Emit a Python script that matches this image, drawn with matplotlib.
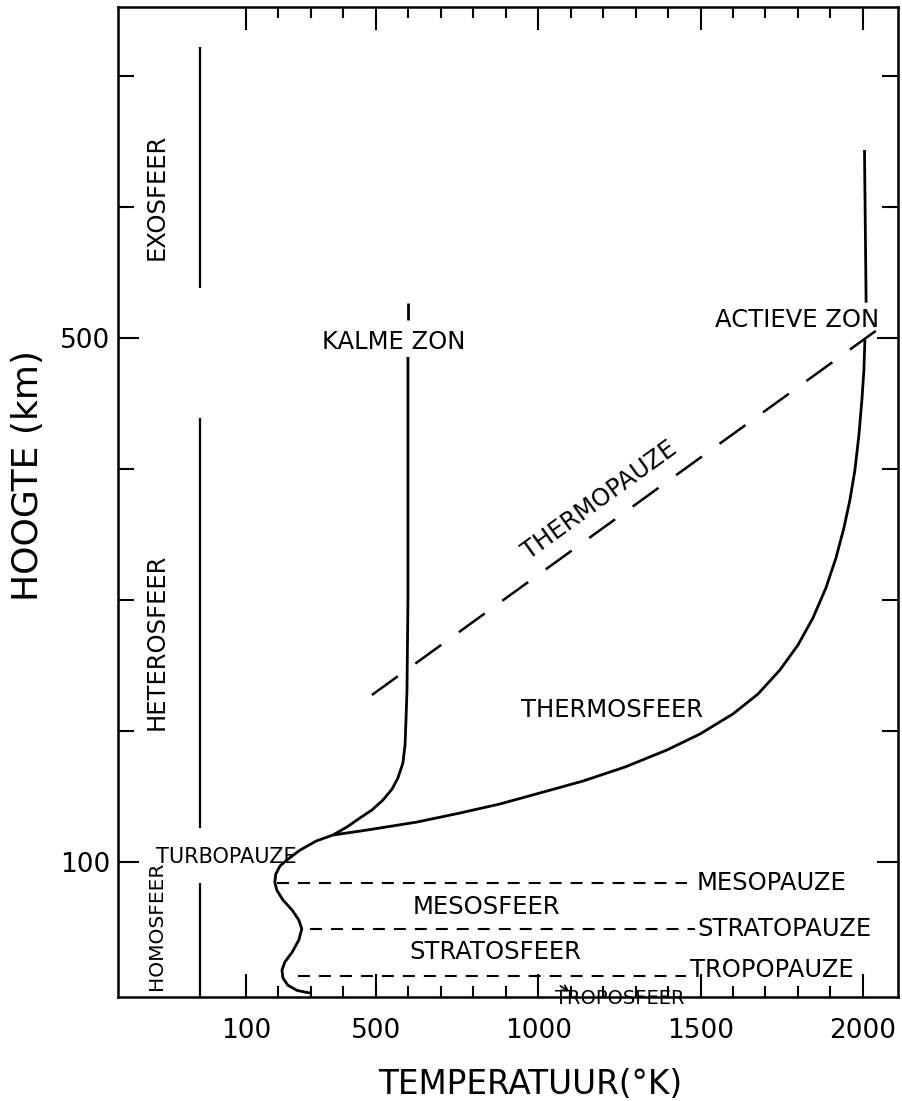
#!/usr/bin/env python3
"""
Temperatuurprofiel van de atmosfeer (kalme / actieve zon).
Usage:
    python plot.py   -> out.png
"""

import matplotlib
matplotlib.use("Agg")
import matplotlib.pyplot as plt

# ── Data: temperature (K) vs height (km) ─────────────────────────────────────
# shared lower part (troposphere up to the turbopause knee)
LOW_T = [297, 257, 229, 214, 211, 220, 242, 263, 272, 263, 242, 214, 195, 189,
         192, 205, 226, 266, 316, 368]
LOW_H = [0, 2, 6, 11.5, 17.5, 23.7, 31, 40.5, 49, 55.7, 63.4, 71, 78.6, 84.7,
         90.8, 97, 101.5, 109, 116, 120.6]

# quiet sun branch
QUIET_T = [368, 411, 451, 488, 522, 550, 568, 583.5, 590, 593, 596, 599, 599]
QUIET_H = [120.6, 126.7, 133.6, 139.7, 147.3, 155.7, 164.1, 175.6, 189.3,
           208.4, 231.3, 300, 485.5]
QUIET_TOP_T = [599, 599]
QUIET_TOP_H = [514, 527]

# active sun branch
ACTIVE_T = [368, 472.6, 626.6, 759.1, 882.3, 1005.4, 1137.9, 1267.2, 1396.6,
            1498.2, 1599.8, 1676.8, 1744.6, 1800, 1846.2, 1886.2, 1917,
            1941.6, 1960, 1975.5, 1987.8, 1997, 2003.2, 2006.2]
ACTIVE_H = [120.6, 124.4, 130.5, 137.4, 144.3, 152.7, 161.8, 172.5, 185.5,
            197.7, 213, 228.2, 246.6, 265.6, 286.3, 309.2, 332, 355, 376.3,
            399.2, 425.9, 452.7, 475.6, 498.5]
ACTIVE_TOP_T = [2010, 2005]
ACTIVE_TOP_H = [527, 643.5]

# thermopause (long dashes)
THERMO_T = [488, 2043]
THERMO_H = [227.5, 506]

# layer boundaries (short dashes)
PAUSE_NAMES = ["MESOPAUZE", "STRATOPAUZE", "TROPOPAUZE"]
PAUSE_H = [84, 49, 13]
PAUSE_T0 = [195, 297, 260]
PAUSE_T1 = [1458, 1483, 1455]

# homo/hetero/exosphere divider (x position and segments)
DIVIDER_T = -42
DIVIDER_SEGS = [(722, 538), (439, 126), (84, -3)]

X_MAJOR = [100, 500, 1000, 1500, 2000]
X_MINOR = list(range(100, 2001, 100))
Y_MAJOR = [100, 500]
Y_MINOR = [200, 300, 400, 600, 700]

FS_LABEL = 17.5   # labels inside the plot


def main():
    plt.rcParams.update({
        'font.family':          'DejaVu Sans',
        'lines.scale_dashes':   False,
        'lines.solid_capstyle': 'butt',
        'lines.dash_capstyle':  'butt',
    })

    fig = plt.figure(figsize=(9.02, 11.01), dpi=100, facecolor='white')
    ax = fig.add_axes([0.1308, 0.0945, 0.8647, 0.8992])
    ax.set_xlim(-294, 2108)
    ax.set_ylim(-3, 752.7)

    lw = 2.0
    # ── profiles ─────────────────────────────────────────────────────────
    ax.plot(LOW_T, LOW_H, color='black', lw=lw)
    ax.plot(QUIET_T, QUIET_H, color='black', lw=lw)
    ax.plot(QUIET_TOP_T, QUIET_TOP_H, color='black', lw=lw)
    ax.plot(ACTIVE_T, ACTIVE_H, color='black', lw=lw)
    ax.plot(ACTIVE_TOP_T, ACTIVE_TOP_H, color='black', lw=lw)

    ax.plot(THERMO_T, THERMO_H, color='black', lw=1.8,
            linestyle=(0, (23, 15.6)))

    # label offsets (K to the right of the dashes, km up)
    label_dx = {"MESOPAUZE": 30, "STRATOPAUZE": 8, "TROPOPAUZE": 12}
    label_dy = {"MESOPAUZE": 0, "STRATOPAUZE": 0, "TROPOPAUZE": 4.5}
    for name, h, t0, t1 in zip(PAUSE_NAMES, PAUSE_H, PAUSE_T0, PAUSE_T1):
        ax.plot([t0, t1], [h, h], color='black', lw=1.5,
                linestyle=(0, (8.6, 6.5)))
        ax.text(t1 + label_dx[name], h + label_dy[name], name,
                fontsize=FS_LABEL, ha='left', va='center')

    for top, bot in DIVIDER_SEGS:
        ax.plot([DIVIDER_T, DIVIDER_T], [bot, top], color='black', lw=1.6)

    # ── labels in the plot ───────────────────────────────────────────────
    ax.text(556, 497, "KALME ZON", fontsize=FS_LABEL, ha='center', va='center')
    ax.text(1797, 514, "ACTIEVE ZON", fontsize=FS_LABEL, ha='center',
            va='center')
    ax.text(1227, 216, "THERMOSFEER", fontsize=FS_LABEL, ha='center',
            va='center')
    ax.text(1190, 376, "THERMOPAUZE", fontsize=FS_LABEL, ha='center',
            va='center', rotation=35.9, rotation_mode='anchor')
    ax.text(842, 65.6, "MESOSFEER", fontsize=FS_LABEL, ha='center',
            va='center')
    ax.text(867, 31.3, "STRATOSFEER", fontsize=FS_LABEL, ha='center',
            va='center')
    ax.text(1252, -3.8, "TROPOSFEER", fontsize=14, ha='center', va='center',
            clip_on=False)
    ax.annotate("", xy=(1104, 0), xytext=(1061, 6.5),
                arrowprops=dict(arrowstyle='->', lw=1.2, color='black'))

    ax.text(-174, 607.6, "EXOSFEER", fontsize=FS_LABEL, rotation=90,
            ha='center', va='center')
    ax.text(-174, 268, "HETEROSFEER", fontsize=FS_LABEL, rotation=90,
            ha='center', va='center')
    ax.text(-174, 51.5, "HOMOSFEER", fontsize=14.5, rotation=90,
            ha='center', va='center')
    ax.text(-178, 103.8, "TURBOPAUZE", fontsize=15, ha='left', va='center')

    # ── axes & ticks ─────────────────────────────────────────────────────
    for sp in ax.spines.values():
        sp.set_linewidth(1.8)

    ax.set_xticks(X_MAJOR)
    ax.set_xticklabels([str(v) for v in X_MAJOR])
    ax.set_xticks(X_MINOR, minor=True)
    ax.set_yticks(Y_MAJOR)
    ax.set_yticklabels([str(v) for v in Y_MAJOR])
    ax.set_yticks(Y_MINOR, minor=True)

    ax.tick_params(which='both', direction='in', top=True, right=True,
                   width=1.5, labelsize=19)
    ax.tick_params(axis='x', which='major', length=16.5, pad=15)
    ax.tick_params(axis='x', which='minor', length=8)
    ax.tick_params(axis='y', which='major', length=15, pad=5.8)
    ax.tick_params(axis='y', which='minor', length=11.5)

    fig.text(28 / 902, 1 - 476 / 1101, "HOOGTE (km)", fontsize=26,
             rotation=90, ha='center', va='center')
    fig.text(530 / 902, 1 - 1084 / 1101, "TEMPERATUUR(°K)", fontsize=23.5,
             ha='center', va='center')

    fig.savefig("out.png", dpi=100, facecolor='white')
    plt.close(fig)


if __name__ == "__main__":
    main()
